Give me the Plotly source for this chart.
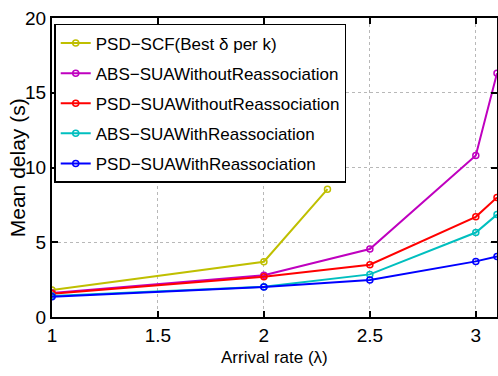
import plotly.graph_objects as go

x_main = [1, 2, 2.5, 3, 3.1]
x_scf = [1, 2, 2.3]
psd_scf = [1.8, 3.7, 8.55]
abs_wo = [1.6, 2.8, 4.55, 10.8, 16.3]
psd_wo = [1.55, 2.7, 3.5, 6.7, 8.0]
abs_w = [1.4, 2.02, 2.85, 5.65, 6.85]
psd_w = [1.35, 2.0, 2.47, 3.72, 4.05]

names = ["PSD−SCF(Best δ per k)", "ABS−SUAWithoutReassociation",
         "PSD−SUAWithoutReassociation", "ABS−SUAWithReassociation",
         "PSD−SUAWithReassociation"]
colors = ["#bfbf00", "#bf00bf", "#ff0000", "#00bfbf", "#0000ff"]
series = [(x_scf, psd_scf), (x_main, abs_wo), (x_main, psd_wo), (x_main, abs_w), (x_main, psd_w)]

FONT = "Liberation Sans, Arial, sans-serif"

fig = go.Figure()
for i, ((xs, ys), n, c) in enumerate(zip(series, names, colors)):
    fig.add_trace(go.Scatter(
        x=xs, y=ys, name=n, mode="lines+markers", legendgroup=f"g{i}",
        line=dict(color=c, width=2),
        marker=dict(symbol="circle-open", size=6, color=c, line=dict(width=1.5, color=c)),
    ))

axis_common = dict(
    showline=True, linecolor="black", linewidth=2, mirror="ticks",
    ticks="inside", ticklen=6, tickwidth=1.5, tickcolor="black",
    showgrid=True, gridcolor="#b8b8b8", griddash="dot", gridwidth=1,
    zeroline=False, automargin=False,
    tickfont=dict(family=FONT, size=19, color="black"),
)

fig.update_xaxes(range=[1, 3.1], tickvals=[1, 1.5, 2, 2.5, 3],
                 ticktext=["1", "1.5", "2", "2.5", "3"], **axis_common)
fig.update_yaxes(range=[0, 20], tickvals=[0, 5, 10, 15, 20],
                 ticktext=["0", "5", "10", "15", "20"], **axis_common)

fig.add_annotation(text="Arrival rate (λ)", xref="paper", yref="paper",
                   x=0.5, y=-0.137, xanchor="center", yanchor="middle",
                   showarrow=False, font=dict(family=FONT, size=17, color="black"))
fig.add_annotation(text="Mean delay (s)", xref="paper", yref="paper",
                   x=-0.077, y=0.5, xanchor="center", yanchor="middle", textangle=-90,
                   showarrow=False, font=dict(family=FONT, size=21, color="black"))

fig.update_layout(
    width=498, height=376,
    margin=dict(l=52, r=1, t=18, b=59),
    plot_bgcolor="white", paper_bgcolor="white",
    legend=dict(x=0.005, y=0.98, xanchor="left", yanchor="top",
                bgcolor="white", bordercolor="black", borderwidth=1.5,
                font=dict(family=FONT, size=17, color="black"),
                itemwidth=30, traceorder="grouped", tracegroupgap=5),
    showlegend=True,
)

fig.write_html("out.html")
